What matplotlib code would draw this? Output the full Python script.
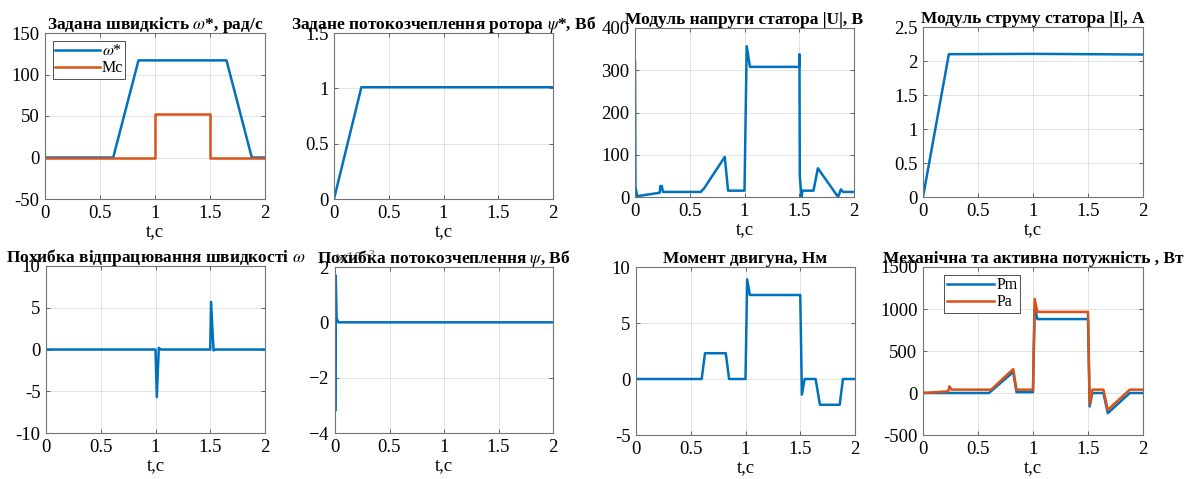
import matplotlib
matplotlib.use("Agg")
import matplotlib.pyplot as plt
from matplotlib.ticker import ScalarFormatter

plt.rcParams["font.family"] = ["Liberation Serif", "DejaVu Serif"]
plt.rcParams["mathtext.fontset"] = "stix"
plt.rcParams["axes.unicode_minus"] = False

BLUE = "#0072BD"
ORANGE = "#D95319"

# --- data ---
t_w = [0, 0.62, 0.85, 1.65, 1.88, 2.0]
w_ref = [0, 0, 117, 117, 0, 0]
t_mc = [0, 1.0, 1.0, 1.5, 1.5, 2.0]
mc = [0, 0, 52, 52, 0, 0]

t_psi = [0, 0.005, 0.25, 2.0]
psi_ref = [0, 0.02, 1.01, 1.01]

t_u = [0, 0.004, 0.02, 0.225, 0.232, 0.245, 0.255, 0.6, 0.63, 0.82, 0.85, 1.0,
       1.02, 1.05, 1.5, 1.502, 1.505, 1.52, 1.53, 1.63, 1.67, 1.855, 1.88, 1.9, 2.0]
u_mod = [320, 25, 2, 10, 26, 26, 12, 12, 20, 95, 15, 15,
         357, 308, 308, 338, 50, 0, 15, 15, 68, 0, 18, 12, 12]

t_i = [0, 0.235, 1.0, 2.0]
i_mod = [0, 2.1, 2.105, 2.095]

t_ew = [0, 1.0, 1.012, 1.03, 1.05, 1.5, 1.507, 1.53, 1.55, 2.0]
e_w = [0, 0, -5.7, 0.2, 0, 0, 5.7, -0.1, 0, 0]

t_epsi = [0, 0.002, 0.006, 0.015, 0.03, 2.0]
e_psi = [0, -3.2e-3, 1.7e-3, 0.15e-3, 0, 0]

t_m = [0, 0.6, 0.63, 0.82, 0.85, 1.0, 1.015, 1.04, 1.5, 1.515, 1.54, 1.64, 1.68, 1.86, 1.89, 2.0]
m_el = [0, 0, 2.3, 2.3, 0, 0, 8.9, 7.5, 7.5, -1.4, 0, 0, -2.3, -2.3, 0, 0]

t_pm = [0, 0.6, 0.82, 0.85, 1.0, 1.015, 1.04, 1.5, 1.515, 1.54, 1.64, 1.68, 1.88, 2.0]
p_m = [0, 0, 250, 10, 10, 1020, 880, 880, -160, 0, 0, -240, 0, 0]
t_pa = [0, 0.23, 0.24, 0.26, 0.62, 0.82, 0.85, 1.0, 1.015, 1.04, 1.5, 1.515, 1.54, 1.64, 1.68, 1.88, 2.0]
p_a = [0, 20, 80, 40, 40, 285, 40, 40, 1120, 965, 965, -130, 40, 40, -200, 40, 40]

W, H = 1197, 479
fig = plt.figure(figsize=(W / 100, H / 100), dpi=100)


def make_ax(l, r, t, b):
    ax = fig.add_axes([l / W, 1 - b / H, (r - l) / W, (b - t) / H])
    ax.grid(True, color="0.87", lw=0.6)
    ax.set_axisbelow(True)
    ax.tick_params(direction="in", top=True, right=True, labelsize=13.5,
                   length=3, width=0.6, color="0.3", pad=4)
    for s in ax.spines.values():
        s.set_color("0.45")
        s.set_linewidth(0.8)
    ax.set_xlim(0, 2)
    ax.set_xticks([0, 0.5, 1, 1.5, 2])
    ax.set_xticklabels(["0", "0.5", "1", "1.5", "2"])
    ax.set_xlabel("t,c", fontsize=13.5, labelpad=1)
    return ax


def title(ax, s):
    ax.set_title(s, fontsize=12.5, fontweight="bold", pad=3, y=1.0)


lw = 1.8

ax = make_ax(45, 265, 33, 199)
ax.plot(t_w, w_ref, color=BLUE, lw=lw, label=r"$\omega$*")
ax.plot(t_mc, mc, color=ORANGE, lw=lw, label="Mc")
ax.set_ylim(-50, 150)
ax.set_yticks([-50, 0, 50, 100, 150])
title(ax, r"Задана швидкість $\omega$*, рад/с")
leg = ax.legend(loc="upper left", fontsize=11.5, handlelength=2.8, fancybox=False,
                edgecolor="0.2", framealpha=1, borderaxespad=0.5, handletextpad=0.1,
                labelspacing=0.05, borderpad=0.15)
leg.get_frame().set_linewidth(0.6)

ax = make_ax(334, 553, 33, 199)
ax.plot(t_psi, psi_ref, color=BLUE, lw=lw)
ax.set_ylim(0, 1.5)
ax.set_yticks([0, 0.5, 1, 1.5])
ax.set_yticklabels(["0", "0.5", "1", "1.5"])
title(ax, r"Задане потокозчеплення ротора $\psi$*, Вб")

ax = make_ax(635, 854, 28, 197)
ax.plot(t_u, u_mod, color=BLUE, lw=lw)
ax.set_ylim(0, 400)
ax.set_yticks([0, 100, 200, 300, 400])
title(ax, "Модуль напруги статора |U|, В")

ax = make_ax(923, 1143, 27, 197)
ax.plot(t_i, i_mod, color=BLUE, lw=lw)
ax.set_ylim(0, 2.5)
ax.set_yticks([0, 0.5, 1, 1.5, 2, 2.5])
ax.set_yticklabels(["0", "0.5", "1", "1.5", "2", "2.5"])
title(ax, "Модуль струму статора |I|, А")

ax = make_ax(46, 265, 266, 433)
ax.plot(t_ew, e_w, color=BLUE, lw=lw)
ax.set_ylim(-10, 10)
ax.set_yticks([-10, -5, 0, 5, 10])
title(ax, r"Похибка відпрацювання швидкості $\omega$")

ax = make_ax(335, 553, 267, 433)
ax.plot(t_epsi, e_psi, color=BLUE, lw=lw)
ax.set_ylim(-4e-3, 2e-3)
ax.set_yticks([-4e-3, -2e-3, 0, 2e-3])
fmt = ScalarFormatter(useMathText=True)
fmt.set_powerlimits((-2, 2))
ax.yaxis.set_major_formatter(fmt)
ax.yaxis.get_offset_text().set_fontsize(12)
ax.yaxis.get_offset_text().set_color("0.4")
title(ax, r"Похибка потокозчеплення $\psi$, Вб")

ax = make_ax(636, 855, 267, 435)
ax.plot(t_m, m_el, color=BLUE, lw=lw)
ax.set_ylim(-5, 10)
ax.set_yticks([-5, 0, 5, 10])
title(ax, "Момент двигуна, Нм")

ax = make_ax(923, 1143, 267, 435)
ax.plot(t_pm, p_m, color=BLUE, lw=lw, label="Pm")
ax.plot(t_pa, p_a, color=ORANGE, lw=lw, label="Pa")
ax.set_ylim(-500, 1500)
ax.set_yticks([-500, 0, 500, 1000, 1500])
title(ax, "Механічна та активна потужність , Вт")
leg = ax.legend(loc="upper left", fontsize=11.5, handlelength=3.0, fancybox=False,
                edgecolor="0.2", framealpha=1, borderaxespad=0.5, handletextpad=0.1,
                labelspacing=0.05, borderpad=0.15, bbox_to_anchor=(0.06, 1.0))
leg.get_frame().set_linewidth(0.6)

fig.savefig("out.png", dpi=100)
